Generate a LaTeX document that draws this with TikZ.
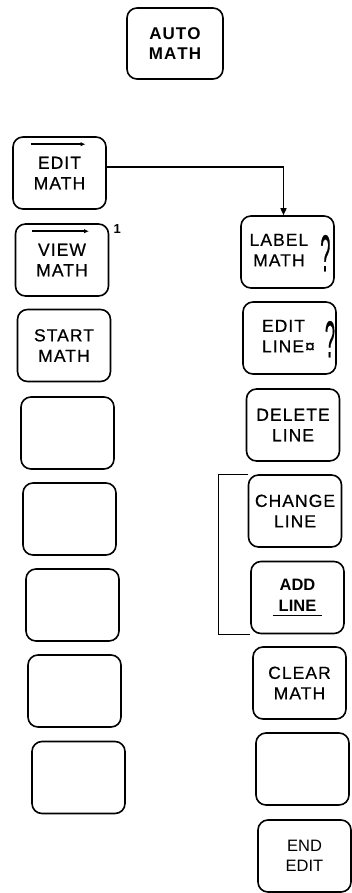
\documentclass[tikz,border=0pt]{standalone}
\usepackage{fontspec,graphicx,tikz}
\usetikzlibrary{arrows.meta}
\newfontfamily\keyfont[LetterSpace=6,FakeBold=0.6]{Liberation Sans}
\newfontfamily\plainfont{Liberation Sans}
\newcommand{\qmark}{\raisebox{-15pt}{\scalebox{0.35}[1]{\fontsize{52}{52}\selectfont ?}}}
\newcommand{\ulbox}[1]{\setbox0\hbox{#1}\rlap{\hspace{-6pt}\rule[-5pt]{\dimexpr\wd0+12pt}{1.4pt}}\box0}

\begin{document}
\begin{tikzpicture}[x=1pt,y=-1pt,
    key/.style={draw, line width=1.6pt, rounded corners=10pt, minimum width=93pt, minimum height=72pt,
        inner sep=0pt, align=center, font={\keyfont\fontsize{17.5}{20.5}\selectfont}},
    overarrow/.style={line width=1.4pt, -{Latex[length=5pt,width=4.5pt]}}]
    \useasboundingbox (0,0) rectangle (352,893);
    \node[key, minimum width=96pt, minimum height=71pt, font={\plainfont\bfseries\fontsize{17}{20.5}\selectfont}] (auto) at (175,43.5) {A\hspace{1pt}U\hspace{1pt}T\hspace{1pt}O\\M\hspace{1pt}A\hspace{1pt}T\hspace{1pt}H};

    \node[key] (edit) at (59.5,173) {EDIT\\MATH};
    \node[key] (view) at (62,260) {VIEW\\MATH};
    \node[key] (start) at (64,345.5) {START\\MATH};
    \foreach \n/\x/\y in {1/67.5/433, 2/69.5/519, 3/72.5/605, 4/74.5/691, 5/78.5/777.5}
        \node[key] (blank-\n) at (\x,\y) {};
    \draw[overarrow] ([xshift=-29pt,yshift=-8pt]edit.north) -- ++(55,0);
    \draw[overarrow] ([xshift=-30pt,yshift=-8pt]view.north) -- ++(57,0);
    \node[font={\plainfont\bfseries\fontsize{13}{13}\selectfont}] (view-note) at ([xshift=8pt,yshift=-6pt]view.north east) {1};

    \node[key] (label) at (287.5,252) {\hspace*{5pt}\begin{tabular}{@{}c@{}}LABEL\\MATH\end{tabular}\hspace{12pt}\qmark};
    \node[key] (editline) at (289.5,338) {\hspace*{18pt}\begin{tabular}{@{}l@{}}EDIT\\LINE¤\end{tabular}\hspace{10pt}\qmark};
    \node[key] (delete) at (293,425) {DELETE\\LINE};
    \node[key] (change) at (295,511) {CHANGE\\LINE};
    \node[key, font={\plainfont\bfseries\fontsize{16.5}{21}\selectfont}] (add) at (297.5,597.5) {ADD\\\ulbox{LINE}};
    \node[key] (clear) at (299.5,683) {CLEAR\\MATH};
    \node[key] (blank-r) at (302.5,769) {};
    \node[key, font={\plainfont\fontsize{16.5}{20.5}\selectfont}] (end) at (304.5,856) {END\\EDIT};

    \draw[line width=1.4pt, -{Triangle[length=7pt,width=6pt]}] ([yshift=6pt]edit.east) -| ([xshift=-4pt]label.north);
    \draw[line width=1.4pt] (change.north west) -- ++(-29,0) |- (add.south west);
\end{tikzpicture}
\end{document}
